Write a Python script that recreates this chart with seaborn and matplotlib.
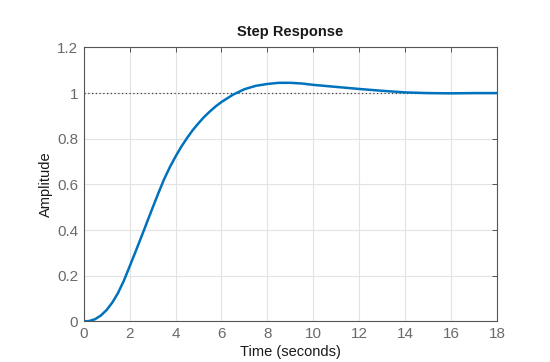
import matplotlib
matplotlib.use("Agg")
import matplotlib.pyplot as plt
import seaborn as sns
import pandas as pd

# Step response
time_s = [0, 0.25, 0.5, 0.75, 1.0, 1.25, 1.5, 1.75, 2.0, 2.25, 2.5, 2.75, 3.0,
          3.25, 3.5, 3.75, 4.0, 4.25, 4.5, 4.75, 5.0, 5.25, 5.5, 5.75, 6.0,
          6.5, 7.0, 7.5, 8.0, 8.5, 9.0, 9.5, 10.0, 11.0, 12.0, 13.0, 14.0,
          15.0, 16.0, 17.0, 18.0]
amplitude = [0.0, 0.002, 0.010, 0.026, 0.050, 0.083, 0.125, 0.178, 0.240,
             0.303, 0.367, 0.432, 0.497, 0.561, 0.622, 0.675, 0.722, 0.765,
             0.803, 0.838, 0.868, 0.896, 0.920, 0.942, 0.961, 0.993, 1.017,
             1.032, 1.040, 1.045, 1.045, 1.042, 1.036, 1.027, 1.018, 1.010,
             1.003, 1.000, 0.999, 1.000, 1.000]
steady_value = [1.0, 1.0]
steady_time = [0, 18]

x_ticks = [0, 2, 4, 6, 8, 10, 12, 14, 16, 18]
y_ticks = [0, 0.2, 0.4, 0.6, 0.8, 1.0, 1.2]
y_tick_labels = ["0", "0.2", "0.4", "0.6", "0.8", "1", "1.2"]

sns.set_style("white")
plt.rcParams["font.family"] = ["Liberation Sans", "DejaVu Sans"]

fig = plt.figure(figsize=(5.5, 3.62), dpi=100)
ax = fig.add_axes([0.152, 0.112, 0.752, 0.757])

df = pd.DataFrame({"t": time_s, "y": amplitude})
ax.plot(steady_time, steady_value, linestyle=(0, (1, 2)), color="#404040",
        linewidth=0.9, zorder=2)
sns.lineplot(data=df, x="t", y="y", ax=ax, color="#0072BD", linewidth=1.8,
             zorder=3)

ax.set_xlim(0, 18)
ax.set_ylim(0, 1.2)
ax.set_xticks(x_ticks)
ax.set_xticklabels([str(v) for v in x_ticks])
ax.set_yticks(y_ticks)
ax.set_yticklabels(y_tick_labels)

ax.grid(True, color="#e3e3e3", linewidth=0.8)
ax.set_axisbelow(True)
for s in ax.spines.values():
    s.set_visible(True)
    s.set_color("#555555")
    s.set_linewidth(0.8)

ax.tick_params(direction="in", length=3.5, width=0.7, color="#555555",
               labelcolor="#6a6a6a", labelsize=11, top=True, right=True,
               pad=4)

ax.set_title("Step Response", fontsize=10.5, fontweight="bold",
             color="#1a1a1a", pad=8)
ax.set_xlabel("Time (seconds)", fontsize=10.5, color="#1a1a1a", labelpad=3)
ax.set_ylabel("Amplitude", fontsize=10.5, color="#1a1a1a", labelpad=3)

fig.savefig("out.png", dpi=100)
